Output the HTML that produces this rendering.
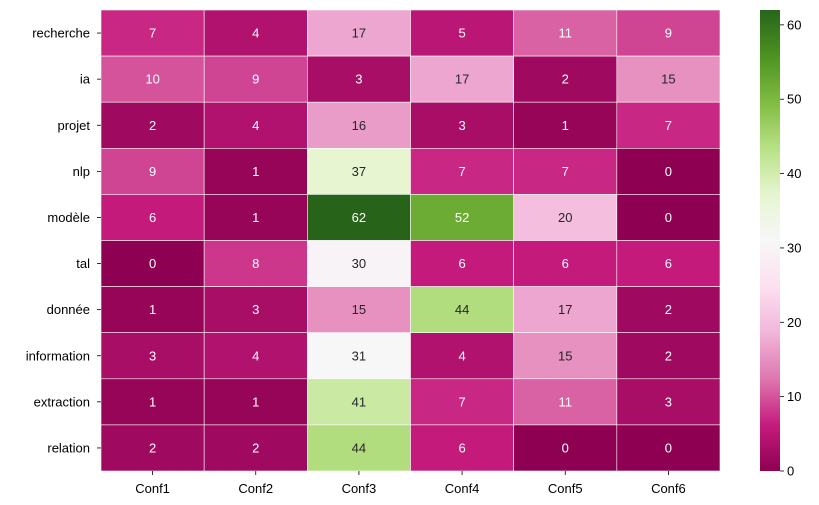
<!DOCTYPE html>
<html><head><meta charset="utf-8"><style>
html,body{margin:0;padding:0;background:#fff;}
svg{display:block;font-family:"Liberation Sans","DejaVu Sans",sans-serif;}
</style></head><body>
<svg id="chart" width="819" height="505" viewBox="0 0 819 505"></svg>
<script>
const rowLabels = ["recherche","ia","projet","nlp","modèle","tal","donnée","information","extraction","relation"];
const colLabels = ["Conf1","Conf2","Conf3","Conf4","Conf5","Conf6"];
const values = [
  [7,4,17,5,11,9],
  [10,9,3,17,2,15],
  [2,4,16,3,1,7],
  [9,1,37,7,7,0],
  [6,1,62,52,20,0],
  [0,8,30,6,6,6],
  [1,3,15,44,17,2],
  [3,4,31,4,15,2],
  [1,1,41,7,11,3],
  [2,2,44,6,0,0]
];
const cbTicks = [0,10,20,30,40,50,60];
const vmin = 0, vmax = 62;

const NS = "http://www.w3.org/2000/svg";
const svg = document.getElementById("chart");
const X0 = 101, X1 = 720, Y0 = 10, Y1 = 471;
const cw = (X1 - X0) / colLabels.length, ch = (Y1 - Y0) / rowLabels.length;
const xPos = i => X0 + i * cw;
const yPos = j => Y0 + j * ch;

const stops = ["#8e0152","#c51b7d","#de77ae","#f1b6da","#fde0ef","#f7f7f7","#e6f5d0","#b8e186","#7fbc41","#4d9221","#276419"]
  .map(h => [parseInt(h.slice(1,3),16),parseInt(h.slice(3,5),16),parseInt(h.slice(5,7),16)]);
function rgbOf(v){
  let t = Math.max(0, Math.min(1, (v - vmin) / (vmax - vmin))) * (stops.length - 1);
  let i = Math.min(Math.floor(t), stops.length - 2), f = t - i;
  return stops[i].map((c,k) => Math.round(c + (stops[i+1][k] - c) * f));
}
function lum(rgb){
  const c = rgb.map(x => { x/=255; return x <= 0.03928 ? x/12.92 : Math.pow((x+0.055)/1.055, 2.4); });
  return 0.2126*c[0] + 0.7152*c[1] + 0.0722*c[2];
}
function mk(tag, attrs, parent){
  const e = document.createElementNS(NS, tag);
  for (const k in attrs) e.setAttribute(k, attrs[k]);
  (parent || svg).appendChild(e);
  return e;
}

values.forEach((row, j) => {
  row.forEach((v, i) => {
    const rgb = rgbOf(v);
    const r = mk("rect", {x:xPos(i), y:yPos(j), width:cw, height:ch, fill:`rgb(${rgb})`, stroke:"#fff", "stroke-width":0.6});
    
    
    const t = mk("text", {x:xPos(i)+cw/2, y:yPos(j)+ch/2+4.5, "text-anchor":"middle", "font-size":13, fill: lum(rgb) > 0.408 ? "#262626" : "#fff"});
    t.textContent = v;
    
    
  });
});

rowLabels.forEach((lab, j) => {
  mk("line", {x1:X0-4, x2:X0, y1:yPos(j)+ch/2, y2:yPos(j)+ch/2, stroke:"#000", "stroke-width":0.8});
  const t = mk("text", {x:X0-11, y:yPos(j)+ch/2+4.5, "text-anchor":"end", "font-size":13, fill:"#000"});
  t.textContent = lab;
  
  
});
colLabels.forEach((lab, i) => {
  mk("line", {x1:xPos(i)+cw/2, x2:xPos(i)+cw/2, y1:Y1, y2:Y1+4, stroke:"#000", "stroke-width":0.8});
  const t = mk("text", {x:xPos(i)+cw/2, y:Y1+22, "text-anchor":"middle", "font-size":13, fill:"#000"});
  t.textContent = lab;
  
  
});

// colorbar
const CX = 760, CW = 20;
const cbY = v => Y1 - (v - vmin) / (vmax - vmin) * (Y1 - Y0);
const defs = mk("defs", {});
const grad = mk("linearGradient", {id:"cbgrad", x1:0, y1:1, x2:0, y2:0}, defs);
stops.forEach((s, k) => mk("stop", {offset: k/(stops.length-1), "stop-color":`rgb(${s})`}, grad));
const cb = mk("rect", {x:CX, y:Y0, width:CW, height:Y1-Y0, fill:"url(#cbgrad)"});


cbTicks.forEach(v => {
  mk("line", {x1:CX+CW, x2:CX+CW+4, y1:cbY(v), y2:cbY(v), stroke:"#000", "stroke-width":0.8});
  const t = mk("text", {x:CX+CW+7, y:cbY(v)+4.5, "font-size":13, fill:"#000"});
  t.textContent = v;
  
  
});
</script>
</body></html>
